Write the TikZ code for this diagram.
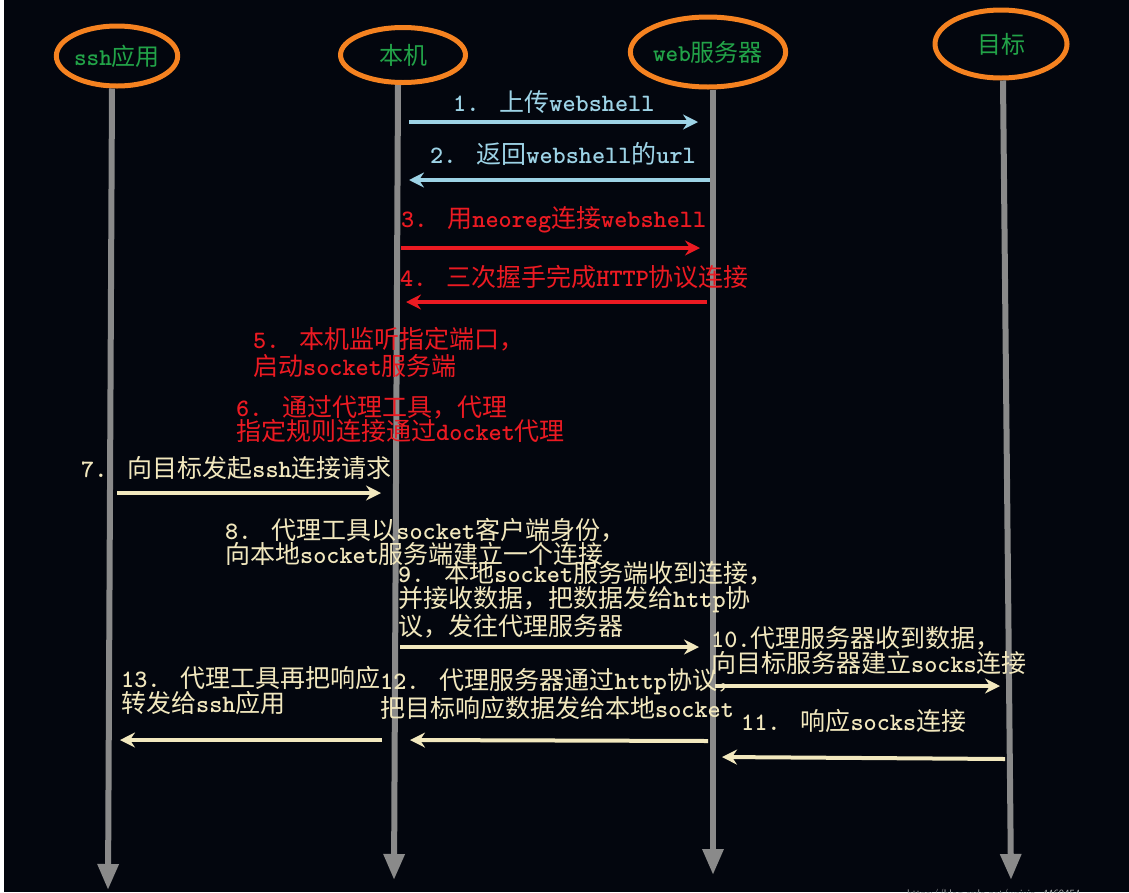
\documentclass[tikz,border=0pt]{standalone}
\usepackage{fontspec}
\setmainfont{Noto Sans CJK SC}
\usetikzlibrary{arrows.meta,shapes.geometric}
\definecolor{bgc}{HTML}{03060E}
\definecolor{orangec}{HTML}{F58220}
\definecolor{greenc}{HTML}{22A348}
\definecolor{grayc}{HTML}{8A8A8A}
\definecolor{bluec}{HTML}{9DD3E6}
\definecolor{redc}{HTML}{EC1A22}
\definecolor{creamc}{HTML}{F2E8BE}
\newcommand\mtx[1]{{\ttfamily\bfseries #1}}
\newcommand\numx[1]{\mtx{#1.}\hspace{20pt}}
\begin{document}
\begin{tikzpicture}[x=1pt,y=-1pt,
  actor/.style={ellipse, draw=orangec, line width=5pt, fill=bgc, text=greenc, inner sep=0pt, font=\fontsize{24}{26}\selectfont},
  life/.style={draw=grayc, line width=6pt, -{Triangle[length=26pt,width=20pt]}},
  msg/.style={line width=4pt, -{Stealth[length=15pt,width=15pt,inset=5pt]}},
  lbl/.style={anchor=base west, inner sep=0pt, align=left, font=\fontsize{25}{25}\selectfont},
]
\useasboundingbox (0,0) rectangle (1129,892);
\fill[white] (0,0) rectangle (1129,892);
\fill[bgc] (4,0) rectangle (1129,892);

% actors
\node[actor, minimum width=119pt, minimum height=60pt] (ssh) at (117,56) {\mtx{ssh}应用};
\node[actor, minimum width=125pt, minimum height=55pt] (local) at (403,55) {本机};
\node[actor, minimum width=132pt, minimum height=70pt] (web) at (708,52) {\mtx{web}服务器};
\node[actor, minimum width=132pt, minimum height=68pt] (target) at (1001,44) {目标};

% lifeline ends
\coordinate (sshend) at (108,890);
\coordinate (localend) at (394,880);
\coordinate (webend) at (713,875);
\coordinate (targetend) at (1011,880);
\draw[life] ([xshift=-5pt]ssh.south) -- (sshend);
\draw[life] ([xshift=-5pt]local.south) -- (localend);
\draw[life] ([xshift=5pt]web.south) -- (webend);
\draw[life] ([xshift=2pt]target.south) -- (targetend);

% message endpoints
\coordinate (m1s) at (409,122);  \coordinate (m1e) at (698,122);
\coordinate (m2s) at (710,180);  \coordinate (m2e) at (409,180);
\coordinate (m3s) at (401,248);  \coordinate (m3e) at (700,248);
\coordinate (m4s) at (707,302);  \coordinate (m4e) at (406,302);
\coordinate (m7s) at (117,493);  \coordinate (m7e) at (381,493);
\coordinate (m9s) at (400,647);  \coordinate (m9e) at (699,647);
\coordinate (m10s) at (715,686); \coordinate (m10e) at (1000,686);
\coordinate (m11s) at (1005,759);\coordinate (m11e) at (722,757);
\coordinate (m12s) at (708,741); \coordinate (m12e) at (410,740);
\coordinate (m13s) at (382,740); \coordinate (m13e) at (120,740);

\draw[msg, bluec] (m1s) -- (m1e);
\draw[msg, bluec] (m2s) -- (m2e);
\draw[msg, redc] (m3s) -- (m3e);
\draw[msg, redc] (m4s) -- (m4e);
\draw[msg, creamc] (m7s) -- (m7e);
\draw[msg, creamc] (m9s) -- (m9e);
\draw[msg, creamc] (m10s) -- (m10e);
\draw[msg, creamc] (m11s) -- (m11e);
\draw[msg, creamc] (m12s) -- (m12e);
\draw[msg, creamc] (m13s) -- (m13e);

% labels (anchor = baseline of the last line)
\node[lbl, text=bluec] (l1) at (453,111) {\numx{1}上传\mtx{webshell}};
\node[lbl, text=bluec] (l2) at (430,163) {\numx{2}返回\mtx{webshell}的\mtx{url}};
\node[lbl, text=redc] (l3) at (401,227) {\numx{3}用\mtx{neoreg}连接\mtx{webshell}};
\node[lbl, text=redc] (l4) at (400,286) {\numx{4}三次握手完成\mtx{HTTP}协议连接};
\node[lbl, text=redc, font=\fontsize{25}{27}\selectfont] (l5) at (253,375) {\numx{5}本机监听指定端口，\\启动\mtx{socket}服务端};
\node[lbl, text=redc, font=\fontsize{25}{24}\selectfont] (l6) at (236,440) {\numx{6}通过代理工具，代理\\指定规则连接通过\mtx{docket}代理};
\node[lbl, text=creamc] (l7) at (81,477) {\numx{7}向目标发起\mtx{ssh}连接请求};
\node[lbl, text=creamc, font=\fontsize{25}{24}\selectfont] (l8) at (225,563) {\numx{8}代理工具以\mtx{socket}客户端身份，\\向本地\mtx{socket}服务端建立一个连接};
\node[lbl, text=creamc, font=\fontsize{25}{23.5}\selectfont] (l9) at (398,635) {\numx{9}本地\mtx{socket}服务端收到连接，\\并接收数据，把数据发给\mtx{http}协\\议，发往代理服务器};
\node[lbl, text=creamc] (l10) at (711,672) {\mtx{10.}代理服务器收到数据，\\向目标服务器建立\mtx{socks}连接};
\node[lbl, text=creamc] (l11) at (741,730) {\numx{11}响应\mtx{socks}连接};
\node[lbl, text=creamc] (l12) at (380,717) {\numx{12}代理服务器通过\mtx{http}协议，\\把目标响应数据发给本地\mtx{socket}};
\node[lbl, text=creamc] (l13) at (121,712) {\numx{13}代理工具再把响应\\转发给\mtx{ssh}应用};

% watermark (cut off at the bottom edge)
\begin{scope}
\clip (0,0) rectangle (1129,892);
\node[anchor=base west, inner sep=0pt, text=gray!60, font=\sffamily\fontsize{11}{11}\selectfont] (wm) at (907,897) {https://blog.csdn.net/weixin\_4469454};
\end{scope}
\end{tikzpicture}
\end{document}
